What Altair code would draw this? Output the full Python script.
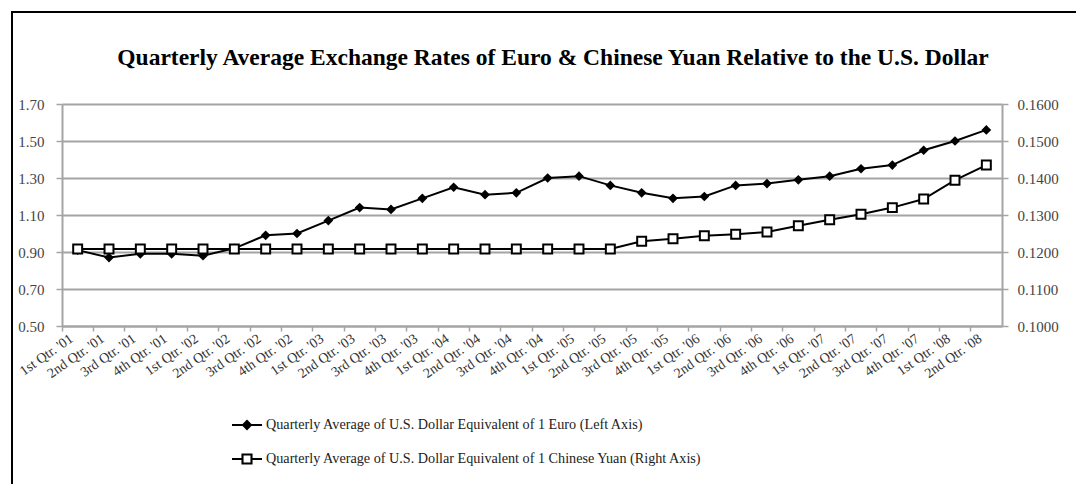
import altair as alt
import pandas as pd

quarters = [
    "1st Qtr. '01", "2nd Qtr. '01", "3rd Qtr. '01", "4th Qtr. '01",
    "1st Qtr. '02", "2nd Qtr. '02", "3rd Qtr. '02", "4th Qtr. '02",
    "1st Qtr. '03", "2nd Qtr. '03", "3rd Qtr. '03", "4th Qtr. '03",
    "1st Qtr. '04", "2nd Qtr. '04", "3rd Qtr. '04", "4th Qtr. '04",
    "1st Qtr. '05", "2nd Qtr. '05", "3rd Qtr. '05", "4th Qtr. '05",
    "1st Qtr. '06", "2nd Qtr. '06", "3rd Qtr. '06", "4th Qtr. '06",
    "1st Qtr. '07", "2nd Qtr. '07", "3rd Qtr. '07", "4th Qtr. '07",
    "1st Qtr. '08", "2nd Qtr. '08",
]
euro = [
    0.91, 0.87, 0.89, 0.89, 0.88, 0.92, 0.99, 1.00, 1.07, 1.14,
    1.13, 1.19, 1.25, 1.21, 1.22, 1.30, 1.31, 1.26, 1.22, 1.19,
    1.20, 1.26, 1.27, 1.29, 1.31, 1.35, 1.37, 1.45, 1.50, 1.56,
]
yuan = [
    0.1208, 0.1208, 0.1208, 0.1208, 0.1208, 0.1208, 0.1208, 0.1208, 0.1208, 0.1208,
    0.1208, 0.1208, 0.1208, 0.1208, 0.1208, 0.1208, 0.1208, 0.1208, 0.1229, 0.1236,
    0.1244, 0.1248, 0.1254, 0.1271, 0.1287, 0.1302, 0.1320, 0.1343, 0.1394, 0.1435,
]
euro_label = "Quarterly Average of U.S. Dollar Equivalent of 1 Euro (Left Axis)"
yuan_label = "Quarterly Average of U.S. Dollar Equivalent of 1 Chinese Yuan (Right Axis)"
left_ticks = [0.50, 0.70, 0.90, 1.10, 1.30, 1.50, 1.70]
right_ticks = [0.1000, 0.1100, 0.1200, 0.1300, 0.1400, 0.1500, 0.1600]
title_text = "Quarterly Average Exchange Rates of Euro & Chinese Yuan Relative to the U.S. Dollar"

df_euro = pd.DataFrame({"quarter": quarters, "value": euro, "series": euro_label})
df_yuan = pd.DataFrame({"quarter": quarters, "value": yuan, "series": yuan_label})
df_all = pd.concat([df_euro, df_yuan], ignore_index=True)

FONT = "Liberation Serif"
GRAY = "#a4a4a4"
PLOT_W = 940
PLOT_H = 222

x_enc = alt.X(
    "quarter:N",
    sort=quarters,
    scale=alt.Scale(type="band", paddingInner=0, paddingOuter=0),
    axis=alt.Axis(
        title=None, bandPosition=0, labelOffset=-6,
        labelAngle=325, labelAlign="right", labelBaseline="middle",
        labelFont=FONT, labelFontSize=14, labelColor="#333333",
        labelPadding=6, tickSize=5, tickColor=GRAY, tickWidth=1.5,
        domainColor=GRAY, domainWidth=2, grid=False, labelLimit=200,
    ),
)

y_left = alt.Y(
    "value:Q",
    scale=alt.Scale(domain=[0.5, 1.7], nice=False, zero=False),
    axis=alt.Axis(
        title=None, orient="left", values=left_ticks, format=".2f",
        labelFont=FONT, labelFontSize=15, labelColor="#444444", labelPadding=12,
        tickSize=6, tickColor=GRAY, tickWidth=1.5,
        domainColor=GRAY, domainWidth=2,
        grid=True, gridColor=GRAY, gridWidth=2,
    ),
)
y_right = alt.Y(
    "value:Q",
    scale=alt.Scale(domain=[0.10, 0.16], nice=False, zero=False),
    axis=alt.Axis(
        title=None, orient="right", values=right_ticks, format=".4f",
        labelFont=FONT, labelFontSize=15, labelColor="#444444", labelPadding=9,
        tickSize=6, tickColor=GRAY, tickWidth=1.5,
        domainColor=GRAY, domainWidth=2, grid=False,
    ),
)

euro_path = "M-1,-0.07H1V0.07H-1Z M0,-0.36L0.36,0L0,0.36L-0.36,0Z"
yuan_path = ("M-1,-0.07H-0.37V0.07H-1Z M0.37,-0.07H1V0.07H0.37Z "
             "M-0.37,-0.37H0.37V0.37H-0.37Z M-0.23,-0.23V0.23H0.23V-0.23Z")

frame = alt.Chart(df_euro.head(1)).mark_rect(
    filled=False, stroke="black", strokeWidth=2, clip=False
).encode(
    x=alt.value(-50), x2=alt.value(1080), y=alt.value(-92), y2=alt.value(400)
)

euro_line = alt.Chart(df_euro).mark_line(color="black", strokeWidth=2).encode(x=x_enc, y=y_left)
euro_pts = alt.Chart(df_euro).mark_point(
    shape="diamond", filled=True, color="black", size=95, opacity=1
).encode(x=x_enc, y=y_left)

legend_layer = alt.Chart(df_all).mark_point(filled=True, color="black", opacity=0).encode(
    x=x_enc,
    y=alt.value(0),
    shape=alt.Shape(
        "series:N",
        scale=alt.Scale(domain=[euro_label, yuan_label], range=[euro_path, yuan_path]),
        legend=alt.Legend(
            title=None, orient="none", legendX=170, legendY=306, direction="vertical",
            symbolSize=900, symbolOpacity=1, symbolFillColor="black",
            symbolStrokeWidth=0, labelFont=FONT, labelFontSize=14.2,
            labelColor="#222222", labelLimit=0, labelOffset=4,
            rowPadding=11, padding=0,
        ),
    ),
)

yuan_line = alt.Chart(df_yuan).mark_line(color="black", strokeWidth=2).encode(x=x_enc, y=y_right)
yuan_pts = alt.Chart(df_yuan).mark_point(
    shape="square", filled=True, fill="white", stroke="black", strokeWidth=2,
    size=80, opacity=1
).encode(x=x_enc, y=y_right)

left_group = alt.layer(frame, euro_line, euro_pts, legend_layer)
right_group = alt.layer(yuan_line, yuan_pts)

chart = alt.layer(left_group, right_group).resolve_scale(y="independent").properties(
    width=PLOT_W,
    height=PLOT_H,
    title=alt.TitleParams(
        text=title_text, font=FONT, fontSize=23.5, fontWeight="bold",
        color="black", anchor="middle", dx=21, offset=-58,
    ),
    autosize=alt.AutoSizeParams(type="none"),
    padding={"left": 62, "top": 104, "right": 74, "bottom": 158},
    background="white",
).configure_view(stroke=None)

chart.save("out.html", embed_options={"renderer": "svg", "actions": False})
